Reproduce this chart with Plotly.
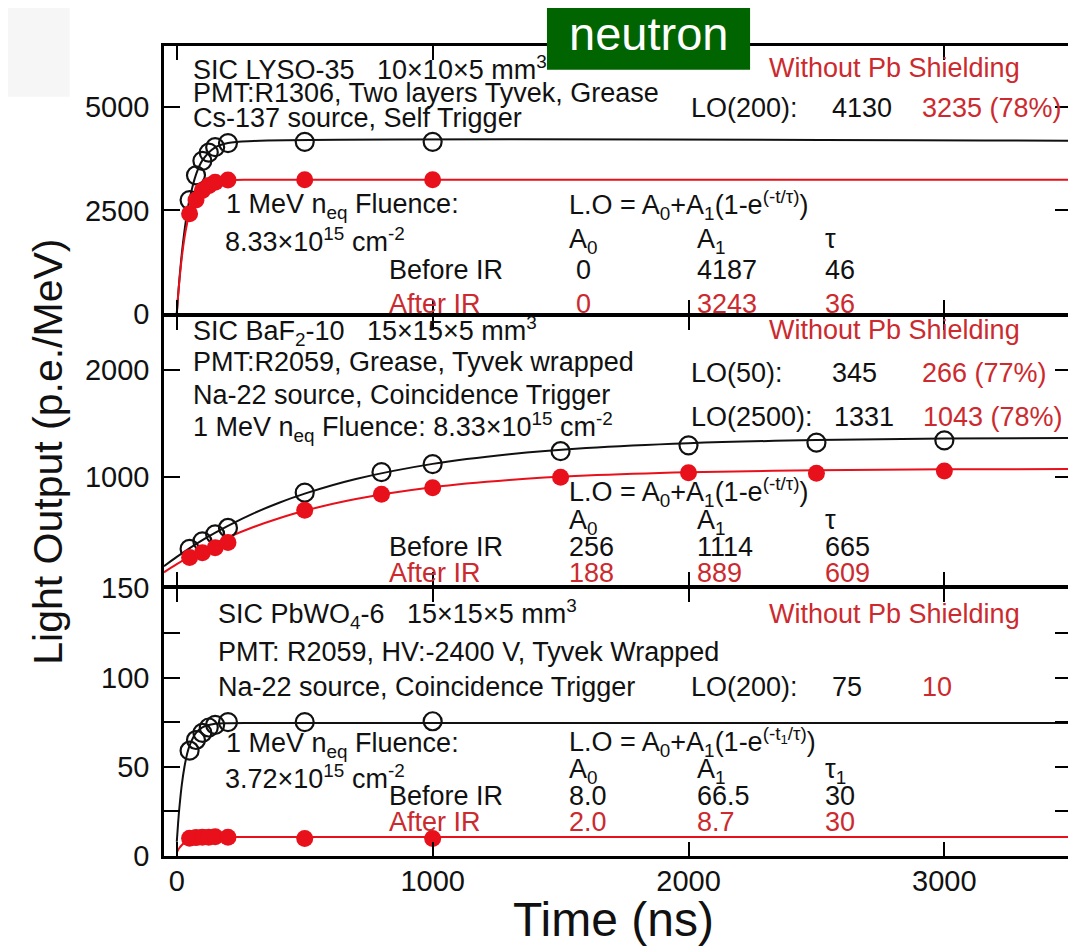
import plotly.graph_objects as go
from plotly.subplots import make_subplots

# ---------------- data ----------------
lyso_t = [50, 75, 100, 125, 150, 200, 500, 1000]
lyso_before = [2750, 3350, 3700, 3900, 4030, 4130, 4160, 4160]
lyso_after = [2420, 2750, 2980, 3100, 3180, 3235, 3240, 3240]
lyso_fit_t = [0, 5, 10, 20, 30, 40, 50, 75, 100, 150, 200, 300, 3500]
lyso_fit_before = [0, 431, 818, 1476, 2005, 2432, 2775, 3367, 3711, 4026, 4133, 4181, 4187]
lyso_fit_after = [0, 421, 786, 1382, 1834, 2175, 2434, 2839, 3041, 3193, 3230, 3242, 3243]

baf_t = [50, 100, 150, 200, 500, 800, 1000, 1500, 2000, 2500, 3000]
baf_before = [330, 400, 465, 525, 854, 1045, 1120, 1240, 1295, 1320, 1341]
baf_after = [250, 295, 340, 390, 690, 840, 900, 997, 1040, 1035, 1055]
baf_fit_t = [-50, 0, 100, 200, 300, 400, 500, 700, 1000, 1300, 1600, 2000, 2500, 3000, 3500]
baf_fit_before = [169, 256, 412, 545, 661, 760, 845, 981, 1122, 1212, 1270, 1315, 1344, 1358, 1364]
baf_fit_after = [112, 188, 323, 437, 534, 616, 686, 795, 905, 972, 1013, 1044, 1062, 1071, 1074]

pwo_t = [50, 75, 100, 125, 150, 200, 500, 1000]
pwo_before = [59, 65, 69, 72, 73.5, 75, 75, 75.5]
pwo_after = [10, 10.3, 10.5, 10.5, 10.8, 10.5, 9.8, 9.8]
pwo_fit_t = [0, 5, 10, 20, 30, 40, 50, 75, 100, 150, 200, 300, 3500]
pwo_fit_before = [8, 18.2, 26.9, 40.4, 50.0, 57.0, 61.9, 69.0, 72.1, 74.1, 74.4, 74.5, 74.5]
pwo_fit_after = [2, 3.3, 4.5, 6.2, 7.5, 8.4, 9.1, 10.0, 10.4, 10.6, 10.7, 10.7, 10.7]

x_ticks = [0, 1000, 2000, 3000]
y1_ticks = [0, 2500, 5000]
y2_ticks = [1000, 2000]
y3_ticks = [0, 25, 50, 75, 100, 125, 150]
y3_text = ["0", "", "50", "", "100", "", "150"]

# ---------------- layout geometry ----------------
# The page body has an 8px margin, so the figure starts at (8, 8) on screen.
OFF = 8
W, H = 1076 - OFF, 946 - OFF
# plot area (screen pixels), frame lines centred on 163/1072 and 45/857
PL, PR, PT, PB = 164.25, 1070.75, 46.25, 855.75
ML, MR, MT, MB = PL - OFF, W - (PR - OFF), PT - OFF, H - (PB - OFF)


def px(x):
    return (x - PL) / (PR - PL)


def py(y):
    return (PB - y) / (PB - PT)


BLACK = "#111111"
RED_MK = "#e8101a"
RED_TX = "#cc2a2e"
FONT = "Liberation Sans, Arial, sans-serif"

fig = make_subplots(rows=3, cols=1, shared_xaxes=True, vertical_spacing=0)

panels = [
    (1, lyso_fit_t, lyso_fit_before, lyso_fit_after, lyso_t, lyso_before, lyso_after),
    (2, baf_fit_t, baf_fit_before, baf_fit_after, baf_t, baf_before, baf_after),
    (3, pwo_fit_t, pwo_fit_before, pwo_fit_after, pwo_t, pwo_before, pwo_after),
]
for row, ft, fb, fa, t, b, a in panels:
    fig.add_trace(go.Scatter(x=ft, y=fb, mode="lines", line=dict(color=BLACK, width=2, shape="spline"),
                             hoverinfo="skip"), row=row, col=1)
    fig.add_trace(go.Scatter(x=ft, y=fa, mode="lines", line=dict(color=RED_MK, width=2, shape="spline"),
                             hoverinfo="skip"), row=row, col=1)
    fig.add_trace(go.Scatter(x=t, y=b, mode="markers",
                             marker=dict(symbol="circle-open", size=18, color=BLACK, line=dict(width=2.2)),
                             name="Before IR"), row=row, col=1)
    fig.add_trace(go.Scatter(x=t, y=a, mode="markers",
                             marker=dict(symbol="circle", size=17, color=RED_MK),
                             name="After IR"), row=row, col=1)

axis_common = dict(showline=True, linecolor="black", linewidth=2.5, mirror="ticks",
                   ticks="inside", tickcolor="black", tickwidth=2, showgrid=False, zeroline=False,
                   tickfont=dict(family=FONT, size=29, color=BLACK))

d1 = [py(313.75), 1.0]
d2 = [py(585.75), py(316.25)]
d3 = [0.0, py(588.25)]

for i in (1, 2, 3):
    fig.update_xaxes(range=[-50, 3495], tickvals=x_ticks, ticklen=14,
                     showticklabels=(i == 3), ticklabelstandoff=-3, **axis_common, row=i, col=1)

fig.update_yaxes(domain=d1, range=[0, 6480], tickvals=y1_ticks, ticklen=16, ticklabelstandoff=6,
                 **axis_common, row=1, col=1)
fig.update_yaxes(domain=d2, range=[-14, 2498], tickvals=y2_ticks, ticklen=16, ticklabelstandoff=6,
                 **axis_common, row=2, col=1)
fig.update_yaxes(domain=d3, range=[0, 150], tickvals=y3_ticks, ticktext=y3_text, ticklen=16,
                 ticklabelstandoff=6, **axis_common, row=3, col=1)

annotations = []


def ann(text, x, y, color=BLACK, size=27, anchor="left", **kw):
    annotations.append(dict(text=text, x=px(x), y=py(y), xref="paper", yref="paper",
                            xanchor=anchor, yanchor="middle", showarrow=False,
                            font=dict(family=FONT, size=size, color=color), **kw))


C1, C2, C3 = 567, 695, 823      # fit-table columns
LO1, LO2, LO3 = 689, 830, 920   # light-output columns

# Panel 1: LYSO
ann("SIC LYSO-35   10×10×5 mm<sup>3</sup>", 191, 68)
ann("PMT:R1306, Two layers Tyvek, Grease", 191, 93)
ann("Cs-137 source, Self Trigger", 191, 118)
ann("Without Pb Shielding", 767, 68, RED_TX)
ann("LO(200):", LO1, 108)
ann("4130", LO2, 108)
ann("3235 (78%)", LO3, 108, RED_TX)
ann("1 MeV n<sub>eq</sub> Fluence:", 224, 206)
ann("8.33×10<sup>15</sup> cm<sup>-2</sup>", 223, 240)
ann("L.O = A<sub>0</sub>+A<sub>1</sub>(1-e<sup>(-t/τ)</sup>)", C1, 205)
ann("A<sub>0</sub>", C1, 241)
ann("A<sub>1</sub>", C2, 241)
ann("τ", C3, 239)
ann("Before IR", 387, 270)
ann("0", 574, 270)
ann("4187", C2, 270)
ann("46", C3, 270)
ann("After IR", 387, 304, RED_TX)
ann("0", 574, 304, RED_TX)
ann("3243", C2, 304, RED_TX)
ann("36", C3, 304, RED_TX)

# Panel 2: BaF2
ann("SIC BaF<sub>2</sub>-10   15×15×5 mm<sup>3</sup>", 191, 331)
ann("Without Pb Shielding", 767, 330, RED_TX)
ann("PMT:R2059, Grease, Tyvek wrapped", 191, 362)
ann("Na-22 source, Coincidence Trigger", 191, 395)
ann("1 MeV n<sub>eq</sub> Fluence: 8.33×10<sup>15</sup> cm<sup>-2</sup>", 191, 427)
ann("LO(50):", LO1, 373)
ann("345", LO2, 373)
ann("266 (77%)", LO3, 373, RED_TX)
ann("LO(2500):", LO1, 417)
ann("1331", 832, 417)
ann("1043 (78%)", 921, 417, RED_TX)
ann("L.O = A<sub>0</sub>+A<sub>1</sub>(1-e<sup>(-t/τ)</sup>)", C1, 492)
ann("A<sub>0</sub>", C1, 522)
ann("A<sub>1</sub>", C2, 522)
ann("τ", C3, 520)
ann("Before IR", 387, 547)
ann("256", C1, 547)
ann("1114", C2, 547)
ann("665", C3, 547)
ann("After IR", 387, 573, RED_TX)
ann("188", C1, 573, RED_TX)
ann("889", C2, 573, RED_TX)
ann("609", C3, 573, RED_TX)

# Panel 3: PbWO4
ann("SIC PbWO<sub>4</sub>-6   15×15×5 mm<sup>3</sup>", 216, 614)
ann("Without Pb Shielding", 767, 614, RED_TX)
ann("PMT: R2059, HV:-2400 V, Tyvek Wrapped", 216, 652)
ann("Na-22 source, Coincidence Trigger", 216, 687)
ann("LO(200):", LO1, 687)
ann("75", LO2, 687)
ann("10", LO3, 687, RED_TX)
ann("1 MeV n<sub>eq</sub> Fluence:", 224, 745)
ann("3.72×10<sup>15</sup> cm<sup>-2</sup>", 223, 777)
ann("L.O = A<sub>0</sub>+A<sub>1</sub>(1-e<sup>(-t<sub>1</sub>/τ)</sup>)", C1, 742)
ann("A<sub>0</sub>", C1, 771)
ann("A<sub>1</sub>", C2, 771)
ann("τ<sub>1</sub>", C3, 771)
ann("Before IR", 387, 796)
ann("8.0", C1, 796)
ann("66.5", C2, 796)
ann("30", C3, 796)
ann("After IR", 387, 822, RED_TX)
ann("2.0", C1, 822, RED_TX)
ann("8.7", C2, 822, RED_TX)
ann("30", C3, 822, RED_TX)

# Axis titles
ann("Light Output (p.e./MeV)", 48, 452, size=41, anchor="center", textangle=-90)
ann("Time (ns)", 614, 919, size=48, anchor="center")

# Green "neutron" label
ann("neutron", 648, 34, color="white", size=47, anchor="center")

shapes = [
    dict(type="rect", xref="paper", yref="paper", x0=px(0), x1=px(70), y0=py(97), y1=py(0),
         fillcolor="#f6f6f6", line=dict(width=0), layer="below"),
    dict(type="rect", xref="paper", yref="paper", x0=px(547), x1=px(750), y0=py(70), y1=py(0),
         fillcolor="#006400", line=dict(width=0), layer="above"),
]

fig.update_layout(width=W, height=H, margin=dict(l=ML, r=MR, t=MT, b=MB, pad=0, autoexpand=False),
                  paper_bgcolor="white", plot_bgcolor="white", showlegend=False,
                  annotations=annotations, shapes=shapes,
                  font=dict(family=FONT, color=BLACK))

fig.write_html("out.html")
